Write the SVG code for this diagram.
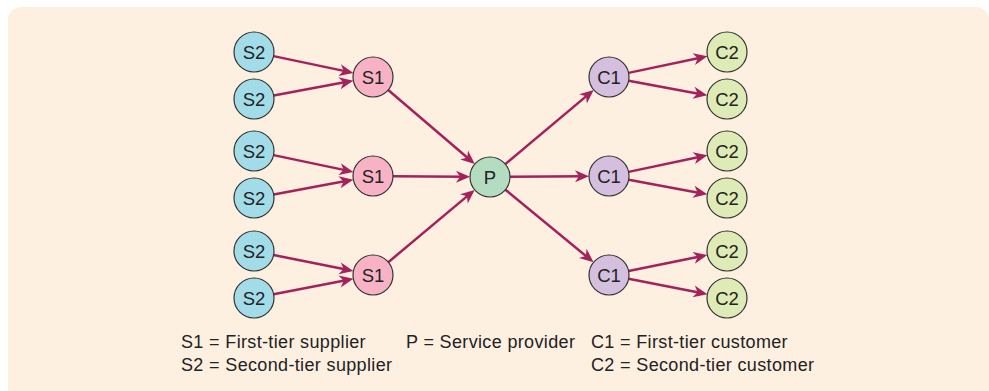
<svg xmlns="http://www.w3.org/2000/svg" width="989" height="391" viewBox="0 0 989 391">
<defs>
<style>
.n circle{stroke:#333;stroke-width:1.2}
.n text{font-family:"Liberation Sans",Arial,sans-serif;font-size:18.5px;fill:#222;text-anchor:middle}
.s2 circle{fill:#a2dce8}
.s1 circle{fill:#f7b3c5}
.p circle{fill:#b3dcc0}
.c1 circle{fill:#d4bfdf}
.c2 circle{fill:#dfebb7}
#edges line{stroke:#a5215c;stroke-width:2.5;marker-end:url(#ah)}
.leg{font-family:"Liberation Sans",Arial,sans-serif;font-size:18px;letter-spacing:0.35px;fill:#222}
</style>
<marker id="ah" markerUnits="userSpaceOnUse" viewBox="-11 -7 17 14" markerWidth="17" markerHeight="14" refX="0" refY="0" orient="auto">
<path d="M5,0 L-9,-6 L-5,0 L-9,6 Z" fill="#a5215c"/>
</marker>
</defs>
<rect x="8" y="7" width="981" height="400" rx="13" fill="#fdf0e1"/>
<g id="edges">
<line x1="273.6" y1="56.1" x2="348.5" y2="71.9"/>
<line x1="273.7" y1="95.4" x2="348.4" y2="81.6"/>
<line x1="273.6" y1="155.1" x2="348.5" y2="170.9"/>
<line x1="273.7" y1="194.4" x2="348.4" y2="180.6"/>
<line x1="273.6" y1="255.0" x2="348.5" y2="270.1"/>
<line x1="273.6" y1="294.2" x2="348.5" y2="279.8"/>
<line x1="388.2" y1="90.0" x2="471.0" y2="160.8"/>
<line x1="393" y1="176.2" x2="465" y2="176.8"/>
<line x1="388.3" y1="262.2" x2="470.8" y2="193.1"/>
<line x1="505.3" y1="164.1" x2="589.9" y2="93.1"/>
<line x1="510" y1="176.8" x2="584" y2="176.2"/>
<line x1="505.4" y1="189.7" x2="589.7" y2="259.1"/>
<line x1="628.6" y1="72.9" x2="702.6" y2="57.2"/>
<line x1="628.7" y1="80.7" x2="702.4" y2="94.4"/>
<line x1="628.6" y1="171.9" x2="702.6" y2="156.2"/>
<line x1="628.7" y1="179.7" x2="702.4" y2="193.4"/>
<line x1="628.6" y1="271.0" x2="702.5" y2="256.0"/>
<line x1="628.6" y1="278.8" x2="702.5" y2="293.2"/>
</g>
<g id="s2a" class="n s2"><circle cx="254" cy="52" r="20"/><text x="254" y="58.5">S2</text></g>
<g id="s2b" class="n s2"><circle cx="254" cy="99" r="20"/><text x="254" y="105.5">S2</text></g>
<g id="s2c" class="n s2"><circle cx="254" cy="151" r="20"/><text x="254" y="157.5">S2</text></g>
<g id="s2d" class="n s2"><circle cx="254" cy="198" r="20"/><text x="254" y="204.5">S2</text></g>
<g id="s2e" class="n s2"><circle cx="254" cy="251" r="20"/><text x="254" y="257.5">S2</text></g>
<g id="s2f" class="n s2"><circle cx="254" cy="298" r="20"/><text x="254" y="304.5">S2</text></g>
<g id="s1a" class="n s1"><circle cx="373" cy="77" r="20"/><text x="373" y="83.5">S1</text></g>
<g id="s1b" class="n s1"><circle cx="373" cy="176" r="20"/><text x="373" y="182.5">S1</text></g>
<g id="s1c" class="n s1"><circle cx="373" cy="275" r="20"/><text x="373" y="281.5">S1</text></g>
<g id="p" class="n p"><circle cx="490" cy="177" r="20"/><text x="490" y="183.5">P</text></g>
<g id="c1a" class="n c1"><circle cx="609" cy="77" r="20"/><text x="609" y="83.5">C1</text></g>
<g id="c1b" class="n c1"><circle cx="609" cy="176" r="20"/><text x="609" y="182.5">C1</text></g>
<g id="c1c" class="n c1"><circle cx="609" cy="275" r="20"/><text x="609" y="281.5">C1</text></g>
<g id="c2a" class="n c2"><circle cx="727" cy="52" r="20"/><text x="727" y="58.5">C2</text></g>
<g id="c2b" class="n c2"><circle cx="727" cy="99" r="20"/><text x="727" y="105.5">C2</text></g>
<g id="c2c" class="n c2"><circle cx="727" cy="151" r="20"/><text x="727" y="157.5">C2</text></g>
<g id="c2d" class="n c2"><circle cx="727" cy="198" r="20"/><text x="727" y="204.5">C2</text></g>
<g id="c2e" class="n c2"><circle cx="727" cy="251" r="20"/><text x="727" y="257.5">C2</text></g>
<g id="c2f" class="n c2"><circle cx="727" cy="298" r="20"/><text x="727" y="304.5">C2</text></g>
<g id="legend">
<text class="leg" x="181" y="347.5">S1 = First-tier supplier</text>
<text class="leg" x="181" y="370.5">S2 = Second-tier supplier</text>
<text class="leg" x="406" y="347.5">P = Service provider</text>
<text class="leg" x="591" y="347.5">C1 = First-tier customer</text>
<text class="leg" x="591" y="370.5">C2 = Second-tier customer</text>
</g>
</svg>
